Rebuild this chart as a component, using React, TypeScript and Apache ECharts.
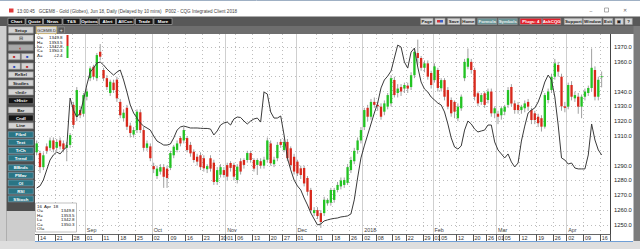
import React, { useEffect, useRef } from "react";
import * as echarts from "echarts";

const dates: string[] = [
  "2017-08-11","2017-08-14","2017-08-15","2017-08-16","2017-08-17","2017-08-18","2017-08-21","2017-08-22","2017-08-23","2017-08-24","2017-08-25","2017-08-28","2017-08-29","2017-08-30","2017-08-31",
  "2017-09-01","2017-09-05","2017-09-06","2017-09-07","2017-09-08","2017-09-11","2017-09-12","2017-09-13","2017-09-14","2017-09-15","2017-09-18","2017-09-19","2017-09-20","2017-09-21","2017-09-22","2017-09-25","2017-09-26","2017-09-27","2017-09-28","2017-09-29",
  "2017-10-02","2017-10-03","2017-10-04","2017-10-05","2017-10-06","2017-10-09","2017-10-10","2017-10-11","2017-10-12","2017-10-13","2017-10-16","2017-10-17","2017-10-18","2017-10-19","2017-10-20","2017-10-23","2017-10-24","2017-10-25","2017-10-26","2017-10-27","2017-10-30","2017-10-31",
  "2017-11-01","2017-11-02","2017-11-03","2017-11-06","2017-11-07","2017-11-08","2017-11-09","2017-11-10","2017-11-13","2017-11-14","2017-11-15","2017-11-16","2017-11-17","2017-11-20","2017-11-21","2017-11-22","2017-11-24","2017-11-27","2017-11-28","2017-11-29","2017-11-30",
  "2017-12-01","2017-12-04","2017-12-05","2017-12-06","2017-12-07","2017-12-08","2017-12-11","2017-12-12","2017-12-13","2017-12-14","2017-12-15","2017-12-18","2017-12-19","2017-12-20","2017-12-21","2017-12-22","2017-12-26","2017-12-27","2017-12-28","2017-12-29",
  "2018-01-02","2018-01-03","2018-01-04","2018-01-05","2018-01-08","2018-01-09","2018-01-10","2018-01-11","2018-01-12","2018-01-16","2018-01-17","2018-01-18","2018-01-19","2018-01-22","2018-01-23","2018-01-24","2018-01-25","2018-01-26","2018-01-29","2018-01-30","2018-01-31",
  "2018-02-01","2018-02-02","2018-02-05","2018-02-06","2018-02-07","2018-02-08","2018-02-09","2018-02-12","2018-02-13","2018-02-14","2018-02-15","2018-02-16","2018-02-20","2018-02-21","2018-02-22","2018-02-23","2018-02-26","2018-02-27","2018-02-28",
  "2018-03-01","2018-03-02","2018-03-05","2018-03-06","2018-03-07","2018-03-08","2018-03-09","2018-03-12","2018-03-13","2018-03-14","2018-03-15","2018-03-16","2018-03-19","2018-03-20","2018-03-21","2018-03-22","2018-03-23","2018-03-26","2018-03-27","2018-03-28","2018-03-29",
  "2018-04-02","2018-04-03","2018-04-04","2018-04-05","2018-04-06","2018-04-09","2018-04-10","2018-04-11","2018-04-12","2018-04-13","2018-04-16"
];
const padDates: string[] = ["2018-04-17", "2018-04-18"];

const open: number[] = [
  1299,1298.5,1289,1303,1302,1307,1302,1307,1305,1302,1304,1331,1323,1327.5,1325,
  1336.5,1349,1356.7,1349,1366.8,1354.5,1349,1339,1346,1348,1333,1322,1329,1317,1311,1314,1326,1314,1302,1303,
  1289.7,1283,1286,1289,1288,1288.5,1297,1300.6,1308.7,1307,1308.6,1304,1299.4,1296,1297,1295,1287.6,1295,1292,1279,1284,1287,
  1290.4,1291.8,1290.5,1280.3,1293,1293.8,1293.8,1298.5,1293.8,1290.5,1293,1290,1294,1305,1291,1295,1306,1300.5,1306,1301.7,1296,
  1292.7,1288.2,1288.4,1281.7,1273.6,1258,1260,1258,1258,1264.6,1265,1266.9,1273.6,1276,1277,1278.4,1287,1293,1300.5,1307,
  1316,1329,1323,1333,1331,1329.8,1326.4,1329.8,1332,1347.8,1339,1343,1342,1344,1343,1351,1366,1362.6,1356,1359,1352.5,
  1347.7,1354.5,1342.2,1347.7,1341,1334.3,1333,1322,1328.7,1349,1356.7,1360,1354.5,1338.8,1333,1338.8,1334.3,1340,1325.3,
  1325,1324,1326.4,1331,1343,1332,1331,1327.5,1328.7,1333,1327.5,1325.3,1323,1322,1316.3,1334.3,1341,1350,1357.9,1350,1330,
  1329.8,1344.4,1335.4,1336.5,1329.8,1336.5,1339,1342.4,1354.5,1336.5,1349.8
];
const close: number[] = [
  1305,1289,1297,1300,1307,1301,1306,1303,1301,1304,1310.6,1317.5,1341,1324,1337.6,
  1340,1355.6,1350,1364.6,1363.5,1349,1343,1346.6,1341,1335.4,1324,1325.7,1316.3,1312,1314,1326.4,1314,1302,1305,1295,
  1287.6,1288,1289,1282.5,1281.7,1298.5,1302.8,1305,1305,1314,1300.5,1298.3,1293.8,1292.7,1289,1288.2,1289.7,1288,1279,1287,1289,1283.7,
  1282.6,1288.5,1282.6,1289.3,1286,1290.5,1298.5,1293.8,1288,1293.8,1290,1294,1307,1291.6,1294,1304,1304,1306,1295,1290.4,1286,
  1284.8,1283.7,1278,1272.4,1260,1260,1256,1252,1267,1266.9,1273.6,1273.6,1277,1280,1280.3,1289,1293.8,1300,1307,1314,
  1327.5,1323,1333,1331,1330,1323,1332,1337.6,1349,1337.6,1342,1340,1344.4,1342,1351,1366.8,1362.6,1356,1359,1350,1344.4,
  1357,1342.4,1347.7,1336.5,1329.8,1325.3,1326.4,1329.8,1336.5,1360,1362.4,1354.5,1336.5,1332,1337.6,1331,1340,1325.3,1328.7,
  1323,1328.7,1329.8,1341,1332,1327.5,1327.5,1329.8,1332,1329.8,1320.8,1320.8,1318.6,1316.3,1337.6,1340,1350,1359,1353.4,1330,1329,
  1344.4,1336.5,1337.6,1329.8,1336.5,1340,1342.4,1356,1336.5,1347.9,1350.3
];
const low: number[] = [
  1297,1285,1287,1298,1300,1299,1300,1301,1299,1293,1302,1315,1320,1322,1323,
  1334,1347,1348,1347,1361,1347,1341,1337,1339,1333,1322,1320,1314,1309,1309,1312,1312,1300,1300,1293,
  1285,1281,1284,1275,1275,1287,1295,1299,1303,1305,1299,1296,1292,1290,1287,1286,1285,1286,1277,1277,1282,1282,
  1280,1286,1280,1278,1284,1288,1292,1292,1286,1283.7,1288,1288,1292,1290,1289,1293,1302,1299,1293,1288,1284,
  1283,1281,1276,1270,1258,1256,1254,1248,1256,1263,1263,1265,1272,1274,1275,1277,1285,1291,1298,1305,
  1314,1320,1321,1329,1327,1321,1324,1328,1330,1336,1336,1337,1339,1339,1341,1349,1358,1354,1353,1348,1342,
  1346,1340,1340,1334,1328,1323,1322,1320,1327,1347,1355,1352,1334,1330,1331,1329,1332,1323,1322,
  1318,1321,1324,1329,1330,1325,1325,1325,1326,1327,1318,1318,1316,1313,1315,1332,1339,1348,1350,1327,1326,
  1328,1334,1333,1325,1322,1334,1337,1340,1334,1334,1342.8
];
const high: number[] = [
  1307,1300,1299,1305,1309,1309,1308,1309,1307,1306,1312,1333,1343,1330,1339,
  1342,1357,1358,1366,1372,1356,1351,1348,1348,1350,1335,1328,1331,1319,1316,1328,1328,1316,1307,1305,
  1292,1290,1291,1291,1290,1300,1304,1307,1310,1316,1310,1306,1301,1298,1299,1297,1291,1297,1294,1289,1291,1289,
  1292,1293,1292,1291,1295,1295,1300,1300,1295,1295,1295,1296,1309,1307,1296,1306,1308,1308,1308,1303,1298,
  1294,1290,1290,1283,1275,1262,1262,1260,1269,1268,1275,1275,1279,1282,1282,1291,1296,1302,1309,1316,
  1329,1331,1335,1336,1333,1332,1334,1339,1351,1350,1345,1345,1346,1346,1353,1369,1375,1364,1361,1361,1354,
  1359,1356,1349,1349,1343,1336,1334,1332,1338,1362,1369,1362,1356,1340,1339,1340,1342,1342,1330,
  1327,1330,1331,1343,1345,1334,1333,1331,1334,1335,1329,1327,1325,1324,1339,1342,1352,1362,1360,1352,1333,
  1346,1347,1340,1339,1338,1342,1344,1369,1357,1350,1353.5
];
const lineVals: number[] = [
  1274.9,1276.3,1280.3,1287.1,1293.8,1297.2,1299.2,1297.9,1300.6,1302.6,1335.6,1327.5,1322.8,1325.5,1334.3,
  1344.4,1353.1,1355.8,1359.2,1359.9,1357.9,1355.2,1353.1,1351.1,1353.1,1354.5,1347.8,1339.7,1330.9,1325.5,1322.1,1318.8,1316.7,1315.4,1314.0,
  1310.0,1306.6,1305.3,1303.9,1303.9,1304.6,1308.7,1314.0,1316.1,1316.7,1316.1,1315.4,1315.4,1315.4,1315.2,1315.1,1315.1,1314.7,1310.7,1313.4,1317.4,1318.8,
  1319.4,1317.4,1321.5,1322.8,1322.5,1320.1,1318.1,1320.1,1321.5,1322.1,1319.4,1339.7,1338.3,1326.2,1322.1,1322.1,1323.5,1310.7,1295.2,1287.1,1280.3,
  1276.3,1273.6,1268.2,1263.5,1258.1,1254.0,1250.0,1250.7,1252.7,1253.4,1254.0,1254.4,1254.7,1255.4,1255.7,1256.1,1257.4,1266.9,1281.7,1295.2,
  1303.3,1310.7,1318.1,1325.5,1332.2,1342.4,1347.8,1350.4,1353.8,1362.6,1371.3,1370.0,1359.9,1355.8,1366.6,1369.3,1356.5,1346.4,1341.7,1339.7,1336.3,
  1334.3,1332.2,1330.9,1326.2,1318.1,1308.7,1302.6,1301.2,1303.3,1314.0,1320.1,1318.1,1314.7,1312.7,1313.4,1314.0,1317.4,1317.4,1306.0,
  1300.6,1297.9,1295.2,1297.9,1292.5,1289.1,1291.8,1306.6,1316.7,1325.5,1327.5,1328.9,1332.9,1339.0,1346.4,1351.1,1347.8,1336.3,1317.4,1295.2,1293.8,
  1291.1,1291.8,1288.4,1287.8,1287.8,1287.8,1297.2,1318.1,1307.3,1300.6,1297.2
];

const weekLabels: string[] = [
  "2017-08-14","2017-08-21","2017-08-28","2017-09-01","2017-09-11","2017-09-18","2017-09-25","2017-10-02","2017-10-09","2017-10-16","2017-10-23","2017-10-30",
  "2017-11-01","2017-11-06","2017-11-13","2017-11-20","2017-11-27","2017-12-01","2017-12-11","2017-12-18","2017-12-26","2018-01-02","2018-01-08","2018-01-16",
  "2018-01-22","2018-01-29","2018-02-01","2018-02-05","2018-02-12","2018-02-20","2018-02-26","2018-03-01","2018-03-05","2018-03-12","2018-03-19","2018-03-26",
  "2018-04-02","2018-04-09","2018-04-16"
];
const monthStarts: string[] = ["2017-09-01","2017-10-02","2017-11-01","2017-12-01","2018-01-02","2018-02-01","2018-03-01","2018-04-02"];
const monthNames: string[] = ["Sep","Oct","Nov","Dec","2018","Feb","Mar","Apr"];
const yTicks: number[] = [1250,1260,1270,1280,1290,1300,1310,1320,1330,1340,1350,1360,1370];
const yLabelTicks: number[] = [1250,1260,1270,1280,1290,1310,1320,1330,1340,1360,1370];

const GREEN = "#23c323";
const RED = "#d8291c";
const FONT = '"Liberation Sans", Arial, sans-serif';

function R(x: number, y: number, w: number, h: number, fill: string, stroke?: string, z = 100) {
  return { type: "rect", z, silent: true, shape: { x, y, width: w, height: h }, style: { fill, stroke: stroke || null, lineWidth: stroke ? 0.6 : 0 } };
}
function T(x: number, y: number, text: string, size: number, fill: string, align = "left", bold = false, z = 102) {
  return {
    type: "text", z, silent: true, x, y,
    style: { text, fill, fontSize: size, fontFamily: FONT, fontWeight: bold ? "bold" : "normal", align, verticalAlign: "middle", textAlign: align, textVerticalAlign: "middle" },
  };
}
function B(x1: number, x2: number, y: number, h: number, label: string, fill: string, color: string, stroke: string, size = 4.4, bold = true) {
  return [R(x1, y, x2 - x1, h, fill, stroke, 101), T((x1 + x2) / 2, y + h / 2 + 0.2, label, size, color, "center", bold)];
}

export default function App() {
  const ref = useRef<HTMLDivElement>(null);
  useEffect(() => {
    if (!ref.current) return;
    const chart = echarts.init(ref.current, undefined, { renderer: "svg", width: 640, height: 249 });
    const cats = dates.concat(padDates);
    const last = dates.length - 1;
    const weekSet = new Set(weekLabels);
    const monthSet = new Set(monthStarts);
    const candleData = dates.map((d, i) => [i, open[i], close[i], low[i], high[i]]);

    const g: any[] = [];
    // title bar
    g.push(R(0, 0, 640, 16.5, "#ffffff"));
    g.push({ type: "line", z: 101, silent: true, shape: { x1: 0, y1: 0.5, x2: 640, y2: 0.5 }, style: { stroke: "#9fb0c4", lineWidth: 1 } });
    g.push(R(9, 8.5, 4.5, 4, "#e03a3a", undefined, 101));
    g.push(T(17, 11, "13:00:45   GCEM8 - Gold (Globex), Jun 18, Daily (Delayed by 10 mins)   P002 - CQG Integrated Client 2018", 4.6, "#444"));
    g.push(T(591, 10.5, "\u2013", 5, "#666", "center"));
    g.push(R(604.5, 8, 4, 4, "#ffffff", "#777", 101));
    g.push(T(624.5, 10.5, "\u2715", 4.5, "#666", "center"));
    // toolbar
    g.push(R(0, 16.5, 640, 9.5, "#585858"));
    const leftBtns: [string, number, number][] = [["Chart", 8, 25], ["Quote", 26, 42.5], ["News", 43.5, 62], ["T&S", 63, 80], ["Options", 81, 98], ["Alert", 99.5, 115.5], ["AllCon", 116.5, 134], ["Trade", 135.5, 153], ["More", 154, 172]];
    leftBtns.forEach(([l, a, b]) => g.push(...B(a, b, 18.3, 6.2, l, "#161616", "#ffffff", "#b8b8b8")));
    const rightBtns: [string, number, number, string, string][] = [
      ["Page", 420.7, 433, "#d6d6d6", "#222"], ["", 435, 445, "#d6d6d6", "#222"], ["Save", 447.7, 460, "#d6d6d6", "#222"], ["Home", 461.7, 475, "#d6d6d6", "#222"],
      ["Formula", 477.7, 496.7, "#6a9597", "#e8f0f0"], ["Symbols", 498.3, 517.3, "#6a9597", "#e8f0f0"], ["Plugs: 4", 520, 541.7, "#e3202b", "#ffffff"], ["AskCQG", 542.7, 560.7, "#e3202b", "#ffffff"],
      ["Support", 564.3, 582.3, "#d6d6d6", "#222"], ["Window", 583.3, 601.7, "#d6d6d6", "#222"], ["Exit", 603.3, 612.7, "#d6d6d6", "#222"], ["\u25A3", 615, 623.3, "#d6d6d6", "#222"], ["?", 625, 632.3, "#d6d6d6", "#222"],
    ];
    rightBtns.forEach(([l, a, b, f, c]) => g.push(...B(a, b, 18.3, 6.2, l, f, c, "#9a9a9a")));
    g.push(R(437, 20, 3, 2.5, "#d0343a", undefined, 102), R(440, 20, 3, 2.5, "#3a5fc8", undefined, 102));
    // tab row
    g.push(R(0, 26, 640, 8, "#6e6e6e"));
    g.push(R(36.5, 26.6, 20, 7, "#d9d9d9", "#e2bd55", 101));
    g.push(T(46.5, 30.2, "GCEM8.D", 4.2, "#333", "center"));
    g.push(...B(58, 64.5, 27, 6, "+", "#5a5a5a", "#eeeeee", "#9a9a9a", 5, false));
    // left panel
    g.push(R(0, 26, 35, 215, "#4e4e4e"));
    g.push(R(0, 26, 6.5, 215, "#cfcfcf"));
    g.push(R(6.5, 211, 28.5, 30, "#cdcdcd"));
    const LG = "#d3d3d3";
    g.push(...B(8.3, 33.3, 26.7, 6.5, "Setup", LG, "#222", "#888"));
    g.push(...B(8.3, 33.3, 35, 6.2, "\u229F", LG, "#333", "#888", 5, false));
    g.push(...B(8.3, 33.3, 44.6, 6.2, "\u25D0", "#a8a8a8", "#c0282a", "#777", 5, false));
    g.push(...B(8.3, 20.3, 53.5, 6.3, "\u25A0", LG, "#c0282a", "#888", 4, false));
    g.push(...B(21.3, 33.3, 53.5, 6.3, "\u25A0", LG, "#2a4ec0", "#888", 4, false));
    g.push(...B(8.3, 20.3, 63, 6.3, "\u25A0", LG, "#2a4ec0", "#888", 4, false));
    g.push(...B(21.3, 33.3, 63, 6.3, "\u25A0", LG, "#c0282a", "#888", 4, false));
    g.push(...B(8.3, 33.3, 71.7, 6, "ReSel", LG, "#222", "#888"));
    g.push(...B(8.3, 33.3, 80, 6, "Studies", LG, "#222", "#888"));
    g.push(...B(8.3, 33.3, 89, 6, "<Intl>", LG, "#222", "#888"));
    g.push(...B(8.3, 33.3, 97.7, 6, "<Hist>", "#151515", "#ffffff", "#888"));
    g.push(...B(8.3, 33.3, 107, 6, "Bar", LG, "#222", "#888"));
    g.push(...B(8.3, 33.3, 115, 6, "Cndl", "#151515", "#ffffff", "#888"));
    g.push(...B(8.3, 33.3, 122.7, 6, "Line", LG, "#222", "#888"));
    const teal: [string, number][] = [["Fibnl", 131.7], ["Text", 139.3], ["TrCh", 147.5], ["Trend", 155], ["BBnds", 164.8], ["PMav", 172.4], ["OI", 180], ["RSI", 188.2], ["SStoch", 195.9]];
    teal.forEach(([l, y]) => g.push(...B(8.3, 33.3, y, 5.9, l, "#2a7585", "#ffffff", "#8ab")));
    // right border strip
    g.push(R(633.5, 26, 6.5, 215, "#7c7c7c"));
    // bottom
    g.push(R(0, 241, 640, 8, "#dedede"));
    g.push({ type: "line", z: 101, silent: true, shape: { x1: 35, y1: 241.5, x2: 633, y2: 241.5 }, style: { stroke: "#6f9fd6", lineWidth: 1 } });
    // top-left info
    const infoRows: [string, string][] = [
      ["O=", open[last].toFixed(1)], ["H=", high[last].toFixed(1)], ["L=", low[last].toFixed(1)], ["C=", close[last].toFixed(1)], ["\u0394=", "+" + (close[last] - close[last - 1]).toFixed(1)],
    ];
    infoRows.forEach(([a, b], k) => {
      g.push(T(37, 37.8 + k * 4.35, a, 4.4, "#111"));
      g.push(T(62.5, 37.8 + k * 4.35, b, 4.4, "#111", "right"));
    });
    g.push(R(66.5, 35, 2, 11, RED, undefined, 101), R(66.5, 46, 2, 12, GREEN, undefined, 101));
    // bottom-left info box
    g.push(R(35.5, 203, 41, 29, "#ffffff", "#999", 100));
    g.push(T(37, 206.3, "16  Apr  18", 4.4, "#111"));
    const boxRows: [string, string][] = [["O=", open[last].toFixed(1)], ["H=", high[last].toFixed(1)], ["L=", low[last].toFixed(1)], ["C=", close[last].toFixed(1)], ["OI=", ""]];
    boxRows.forEach(([a, b], k) => {
      g.push(T(37, 210.7 + k * 4.45, a, 4.4, "#111"));
      g.push(T(74.5, 210.7 + k * 4.45, b, 4.4, "#111", "right"));
    });

    const option: any = {
      animation: false,
      backgroundColor: "#ffffff",
      grid: { left: 35, top: 34, width: 575, height: 200, containLabel: false },
      xAxis: [
        {
          type: "category", data: cats, boundaryGap: true, position: "bottom",
          axisLine: { show: true, lineStyle: { color: "#666", width: 1 } },
          axisTick: { show: true, length: 7, lineStyle: { color: "#555" }, interval: (i: number, v: string) => weekSet.has(v) },
          axisLabel: { interval: (i: number, v: string) => weekSet.has(v), formatter: (v: string) => v.slice(8), fontSize: 5.4, color: "#333", align: "left", margin: 1.5, fontFamily: FONT },
          splitLine: { show: true, interval: (i: number, v: string) => weekSet.has(v) && !monthSet.has(v), lineStyle: { color: "#bdbdbd", type: [1, 3], width: 1 } },
        },
        {
          type: "category", data: cats, boundaryGap: true, position: "bottom", gridIndex: 0,
          axisLine: { show: false }, axisTick: { show: false },
          axisLabel: { inside: true, interval: (i: number, v: string) => monthSet.has(v), formatter: (v: string) => monthNames[monthStarts.indexOf(v)] || "", fontSize: 5.4, color: "#444", align: "left", margin: 1.5, fontFamily: FONT },
          splitLine: { show: true, interval: (i: number, v: string) => monthSet.has(v), lineStyle: { color: "#cfcfcf", width: 1 } },
        },
      ],
      yAxis: {
        type: "value", position: "right", min: 1243.9, max: 1378.8, scale: true,
        axisLine: { show: true, lineStyle: { color: "#444" } },
        axisTick: { show: false, customValues: yTicks },
        axisLabel: { customValues: yLabelTicks, formatter: (v: number) => v.toFixed(1), fontSize: 5.8, color: "#222", margin: 4, fontFamily: FONT },
        splitLine: { show: true, lineStyle: { color: "#bdbdbd", type: [1, 3], width: 1 } },
      },
      series: [
        {
          type: "custom", xAxisIndex: 0, yAxisIndex: 0, clip: true, z: 2,
          encode: { x: 0, y: [1, 2, 3, 4] },
          data: candleData,
          renderItem: (params: any, api: any) => {
            const i = api.value(0);
            const o = api.value(1), c = api.value(2), l = api.value(3), h = api.value(4);
            const pO = api.coord([i, o]);
            const pC = api.coord([i, c]);
            const pL = api.coord([i, l]);
            const pH = api.coord([i, h]);
            const w = api.size([1, 0])[0] * 0.7;
            const top = Math.min(pO[1], pC[1]);
            const hh = Math.max(Math.abs(pO[1] - pC[1]), 1);
            return {
              type: "group",
              children: [
                { type: "line", shape: { x1: pH[0], y1: pH[1], x2: pL[0], y2: pL[1] }, style: { stroke: "#a0a0a0", lineWidth: 1 } },
                { type: "rect", shape: { x: pO[0] - w / 2, y: top, width: w, height: hh }, style: { fill: c >= o ? GREEN : RED } },
              ],
            };
          },
        },
        {
          type: "line", xAxisIndex: 0, yAxisIndex: 0, data: lineVals, symbol: "none", z: 3,
          lineStyle: { color: "#3a3a3a", width: 1 },
          markLine: {
            silent: true, symbol: ["none", "none"], animation: false,
            lineStyle: { opacity: 0 },
            label: { position: "end", distance: 1, fontSize: 5.8, color: "#ffffff", backgroundColor: "#111111", padding: [1, 2, 0, 2], fontFamily: FONT },
            data: [
              { yAxis: close[last], label: { formatter: close[last].toFixed(1) } },
              { yAxis: lineVals[lineVals.length - 1], label: { formatter: lineVals[lineVals.length - 1].toFixed(2) } },
            ],
          },
        },
      ],
      graphic: { elements: g },
    };
    chart.setOption(option);
    return () => chart.dispose();
  }, []);
  return <div ref={ref} style={{ position: "fixed", left: 0, top: 0, width: 640, height: 249 }} />;
}
